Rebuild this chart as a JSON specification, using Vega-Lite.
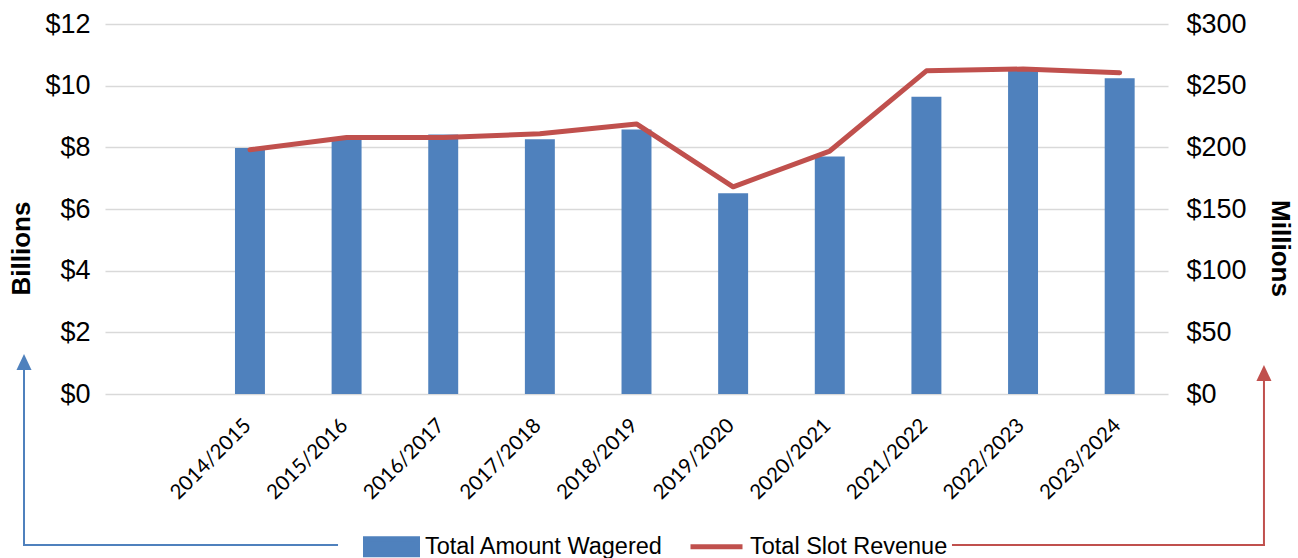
{
  "$schema": "https://vega.github.io/schema/vega-lite/v6.json",
  "width": 1063,
  "height": 370,
  "autosize": {"type": "none"},
  "padding": {"left": 105, "top": 24, "right": 130, "bottom": 164},
  "background": "white",
  "config": {"view": {"stroke": null}, "font": "Liberation Sans"},
  "datasets": {
    "slots": [
      {"season": "2014/2015", "wagered": 7.98, "revenue": 198},
      {"season": "2015/2016", "wagered": 8.30, "revenue": 208},
      {"season": "2016/2017", "wagered": 8.42, "revenue": 208},
      {"season": "2017/2018", "wagered": 8.26, "revenue": 211},
      {"season": "2018/2019", "wagered": 8.58, "revenue": 219},
      {"season": "2019/2020", "wagered": 6.51, "revenue": 168},
      {"season": "2020/2021", "wagered": 7.70, "revenue": 197},
      {"season": "2021/2022", "wagered": 9.64, "revenue": 262},
      {"season": "2022/2023", "wagered": 10.48, "revenue": 263.5},
      {"season": "2023/2024", "wagered": 10.24, "revenue": 260.5}
    ],
    "arrows": [
      {"side": "left", "x": -0.838, "y": -4.897, "x2": 2.401, "y2": -4.897},
      {"side": "left", "x": -0.838, "y": -4.897, "x2": -0.838, "y2": 1.038},
      {"side": "right", "x": 8.775, "y": -4.897, "x2": 11.993, "y2": -4.897},
      {"side": "right", "x": 11.993, "y": -4.897, "x2": 11.993, "y2": 0.681}
    ]
  },
  "layer": [
    {
      "data": {"name": "slots"},
      "encoding": {
        "x": {
          "field": "season",
          "type": "nominal",
          "sort": null,
          "scale": {
            "domain": ["", "2014/2015", "2015/2016", "2016/2017", "2017/2018", "2018/2019", "2019/2020", "2020/2021", "2021/2022", "2022/2023", "2023/2024"],
            "paddingInner": 0,
            "paddingOuter": 0
          },
          "axis": {
            "title": null,
            "labelAngle": -45,
            "labelAlign": "right",
            "labelBaseline": "middle",
            "labelPadding": 28,
            "labelOffset": -2,
            "labelFont": "Lato",
            "labelFontSize": 20.5,
            "labelColor": "#000000",
            "ticks": false,
            "domain": false,
            "grid": false
          }
        }
      },
      "layer": [
        {
          "mark": {"type": "bar", "width": {"band": 0.31}},
          "encoding": {
            "y": {
              "field": "wagered",
              "type": "quantitative",
              "scale": {"domain": [0, 12], "nice": false},
              "axis": {
                "title": "Billions",
                "titleY": 224,
                "values": [0, 2, 4, 6, 8, 10, 12],
                "labelExpr": "'$' + datum.value",
                "labelFontSize": 27,
                "labelColor": "#000000",
                "labelPadding": 15,
                "ticks": false,
                "domain": false,
                "grid": true,
                "gridColor": "#d9d9d9",
                "gridWidth": 1.5,
                "titleFontSize": 26,
                "titleFontWeight": "bold",
                "titleColor": "#000000",
                "titlePadding": 10
              }
            },
            "color": {
              "datum": "Total Amount Wagered",
              "type": "nominal",
              "scale": {
                "domain": ["Total Amount Wagered", "Total Slot Revenue"],
                "range": ["#4f81bd", "#c0504d"]
              },
              "legend": {
                "orient": "none",
                "legendX": 258,
                "legendY": 494,
                "direction": "horizontal",
                "title": null,
                "labelFont": "Liberation Sans",
                "labelFontSize": 23.5,
                "labelLimit": 0,
                "labelColor": "#000000",
                "symbolSize": 2704,
                "labelOffset": 5,
                "columnPadding": 16,
                "encode": {
                  "symbols": {
                    "update": {
                      "shape": {"signal": "datum.label === 'Total Slot Revenue' ? 'M-1,-0.31M-1,0L1,0M1,0.31' : 'M-1,-0.31L1,-0.31L1,0.31L-1,0.31Z'"},
                      "fill": {"signal": "datum.label === 'Total Slot Revenue' ? 'transparent' : '#4f81bd'"},
                      "stroke": {"signal": "datum.label === 'Total Slot Revenue' ? '#c0504d' : 'transparent'"},
                      "strokeWidth": {"value": 5},
                      "opacity": {"value": 1}
                    }
                  }
                }
              }
            }
          }
        },
        {
          "mark": {"type": "line", "strokeWidth": 5, "strokeCap": "round", "strokeJoin": "round"},
          "encoding": {
            "y": {
              "field": "revenue",
              "type": "quantitative",
              "scale": {"domain": [0, 300], "nice": false},
              "axis": {
                "orient": "right",
                "title": "Millions",
                "titleY": 224,
                "values": [0, 50, 100, 150, 200, 250, 300],
                "labelExpr": "'$' + datum.value",
                "labelFontSize": 27,
                "labelColor": "#000000",
                "labelPadding": 18,
                "ticks": false,
                "domain": false,
                "grid": false,
                "titleFontSize": 26,
                "titleFontWeight": "bold",
                "titleColor": "#000000",
                "titleAngle": 90,
                "titlePadding": 20
              }
            },
            "color": {"datum": "Total Slot Revenue", "type": "nominal"}
          }
        }
      ],
      "resolve": {"scale": {"y": "independent"}}
    },
    {
      "data": {"name": "arrows"},
      "layer": [
        {
          "mark": {"type": "rule", "strokeWidth": 2, "strokeCap": "square"},
          "encoding": {
            "x": {"field": "x", "type": "quantitative", "scale": {"domain": [0, 11], "nice": false, "zero": false}, "axis": null},
            "x2": {"field": "x2"},
            "y": {"field": "y", "type": "quantitative", "scale": {"domain": [0, 12], "nice": false, "zero": false}, "axis": null},
            "y2": {"field": "y2"},
            "color": {"condition": {"test": "datum.side === 'left'", "value": "#4f81bd"}, "value": "#c0504d"}
          }
        },
        {
          "transform": [{"filter": "datum.x === datum.x2"}],
          "mark": {"type": "point", "filled": true, "opacity": 1, "shape": "M0,-1L0.94,1L-0.94,1Z", "size": 256},
          "encoding": {
            "x": {"field": "x2", "type": "quantitative", "scale": {"domain": [0, 11], "nice": false, "zero": false}, "axis": null},
            "y": {"field": "y2", "type": "quantitative", "scale": {"domain": [0, 12], "nice": false, "zero": false}, "axis": null},
            "color": {"condition": {"test": "datum.side === 'left'", "value": "#4f81bd"}, "value": "#c0504d"}
          }
        }
      ]
    }
  ],
  "resolve": {"scale": {"x": "independent", "y": "independent"}}
}
